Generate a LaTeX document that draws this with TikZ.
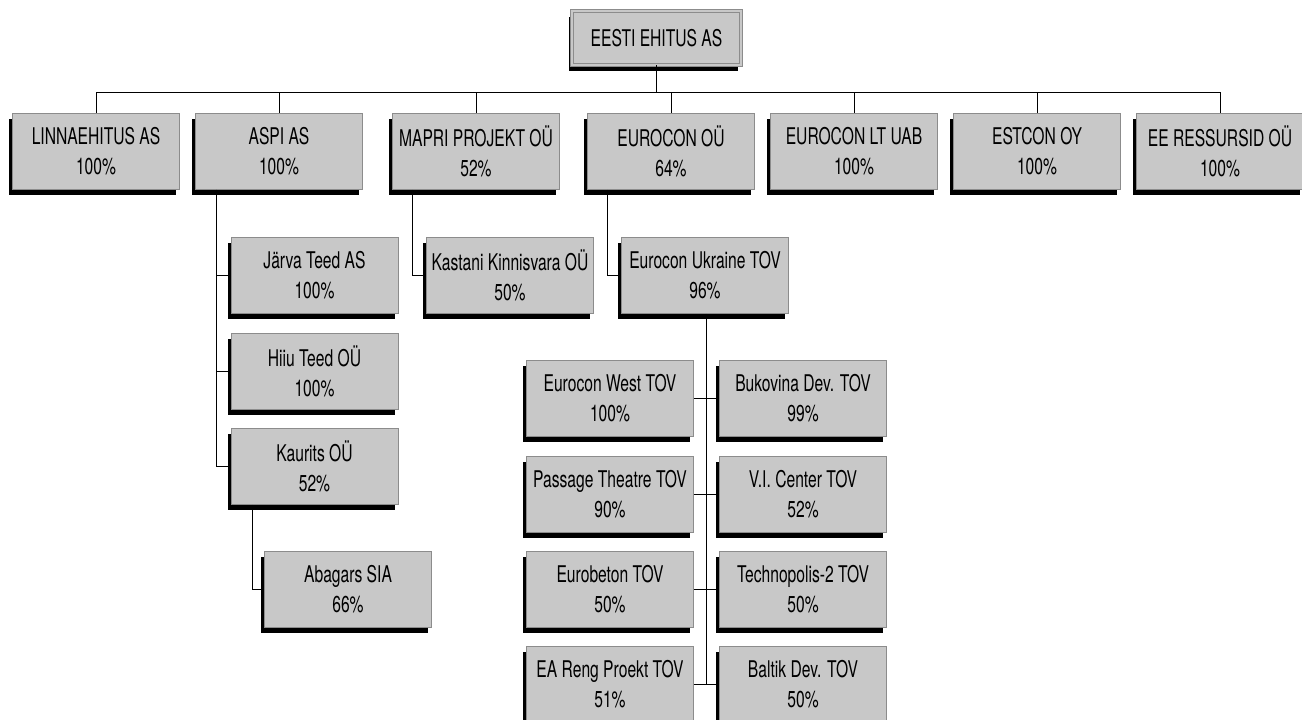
\documentclass[tikz,border=0pt]{standalone}
\usepackage{fontspec}
\setmainfont{TeX Gyre Heros}[FakeStretch=0.68]
\usetikzlibrary{shadows}
\definecolor{boxgray}{RGB}{200,200,200}
\definecolor{bordergray}{RGB}{140,140,140}
\begin{document}
\begin{tikzpicture}[x=1pt,y=-1pt,
  orgbox/.style={rectangle, draw=bordergray, line width=0.9pt, fill=boxgray,
    minimum width=167pt, minimum height=76pt, inner sep=0pt, align=center,
    font=\fontsize{23}{30}\selectfont,
    drop shadow={shadow xshift=-3.5pt, shadow yshift=-5.5pt, fill=black, opacity=1}},
  rootbox/.style={orgbox, minimum width=169pt, minimum height=54pt,
    line width=0.8pt, double=boxgray, double distance=2pt},
  link/.style={draw=black, line width=1pt}]
\fill[white] (0,0) rectangle (1302,720);
\useasboundingbox (0,0) rectangle (1302,720);
% root
\node[rootbox] (root) at (656.5,38) {EESTI EHITUS AS};
% top level
\node[orgbox] (l1) at (96,151.5) {LINNAEHITUS AS\\100\%};
\node[orgbox] (l2) at (279,151.5) {ASPI AS\\100\%};
\node[orgbox] (l3) at (476,151.5) {MAPRI PROJEKT OÜ\\52\%};
\node[orgbox] (l4) at (671,151.5) {EUROCON OÜ\\64\%};
\node[orgbox] (l5) at (854,151.5) {EUROCON LT UAB\\100\%};
\node[orgbox] (l6) at (1037,151.5) {ESTCON OY\\100\%};
\node[orgbox] (l7) at (1220,151.5) {EE RESSURSID OÜ\\100\%};
% ASPI children
\node[orgbox] (jarva) at (314.5,275.5) {Järva Teed AS\\100\%};
\node[orgbox] (hiiu) at (314.5,371) {Hiiu Teed OÜ\\100\%};
\node[orgbox] (kaurits) at (314.5,466.5) {Kaurits OÜ\\52\%};
\node[orgbox] (abagars) at (348,589.5) {Abagars SIA\\66\%};
% MAPRI child
\node[orgbox] (kastani) at (510,275.5) {Kastani Kinnisvara OÜ\\50\%};
% EUROCON child
\node[orgbox] (ukr) at (705,275.5) {Eurocon Ukraine TOV\\96\%};
% Ukraine children
\node[orgbox] (west) at (610,398) {Eurocon West TOV\\100\%};
\node[orgbox] (buk) at (803,398) {Bukovina Dev. TOV\\99\%};
\node[orgbox] (pass) at (610,494) {Passage Theatre TOV\\90\%};
\node[orgbox] (vic) at (803,494) {V.I. Center TOV\\52\%};
\node[orgbox] (ebet) at (610,589.5) {Eurobeton TOV\\50\%};
\node[orgbox] (tech) at (803,589.5) {Technopolis-2 TOV\\50\%};
\node[orgbox] (reng) at (610,684.5) {EA Reng Proekt TOV\\51\%};
\node[orgbox] (balt) at (803,684.5) {Baltik Dev. TOV\\50\%};
% connectors
\coordinate (bus) at (656.5,92);
\draw[link] (root.south) -- (bus);
\foreach \n in {l1,l2,l3,l4,l5,l6,l7} \draw[link] (bus) -| (\n.north);
\draw[link] ([xshift=21pt]l2.south west) |- (jarva.west);
\draw[link] ([xshift=21pt]l2.south west) |- (hiiu.west);
\draw[link] ([xshift=21pt]l2.south west) |- (kaurits.west);
\draw[link] ([xshift=22pt]kaurits.south west) |- (abagars.west);
\draw[link] ([xshift=20pt]l3.south west) |- (kastani.west);
\draw[link] ([xshift=20pt]l4.south west) |- (ukr.west);
\draw[link] ([xshift=1pt]ukr.south) -- ([xshift=1pt]ukr.south |- reng.east);
\draw[link] (west.east) -- (buk.west);
\draw[link] (pass.east) -- (vic.west);
\draw[link] (ebet.east) -- (tech.west);
\draw[link] (reng.east) -- (balt.west);
\end{tikzpicture}
\end{document}
